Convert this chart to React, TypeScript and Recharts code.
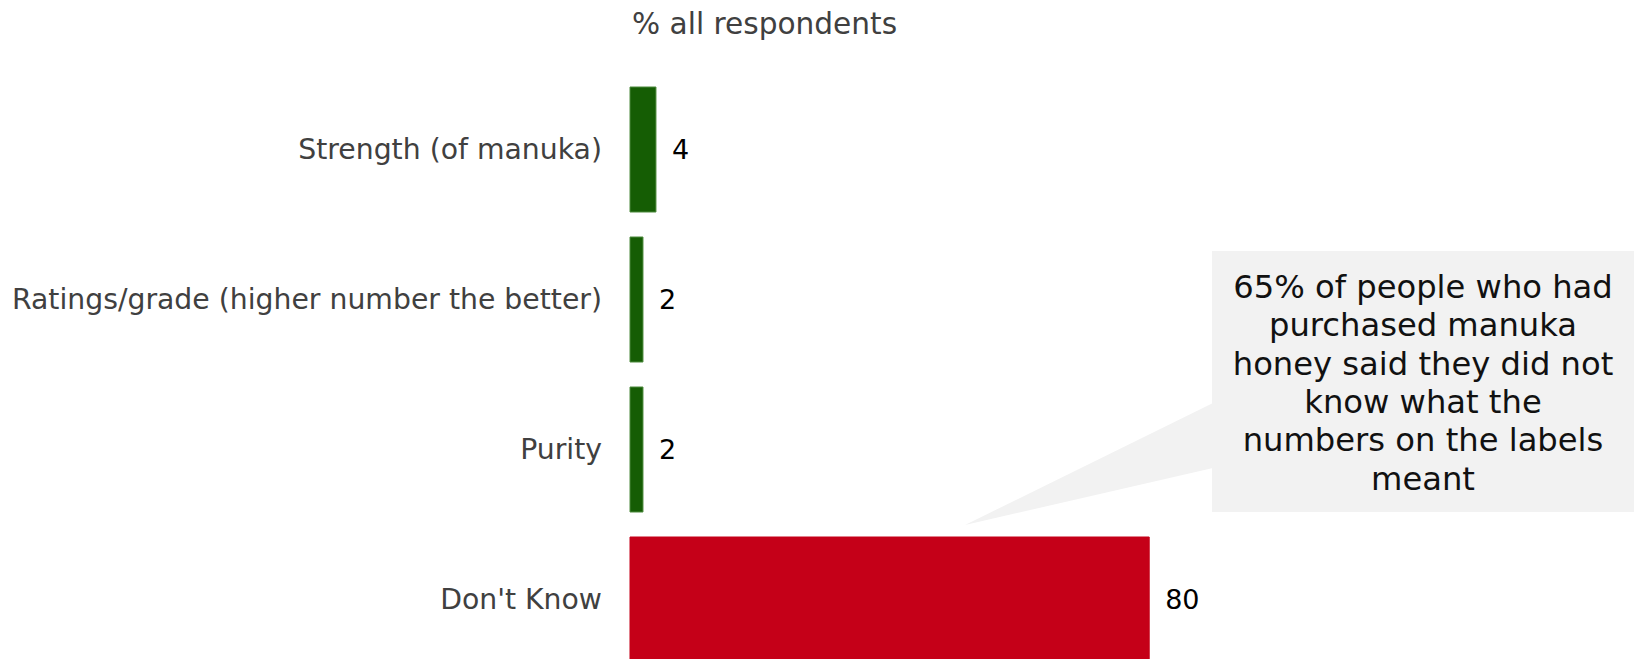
import React from 'react';
import { BarChart, Bar, XAxis, YAxis, Cell, LabelList } from 'recharts';

const categories = [
  'Strength (of manuka)',
  'Ratings/grade (higher number the better)',
  'Purity',
  "Don't Know",
];
const values = [4, 2, 2, 80];
const barColors = ['#155d04', '#155d04', '#155d04', '#c50018'];
const calloutLines = [
  '65% of people who had',
  'purchased manuka',
  'honey said they did not',
  'know what the',
  'numbers on the labels',
  'meant',
];

const data = categories.map((name, i) => ({ name, value: values[i] }));

const FONT = "Tahoma, 'DejaVu Sans', sans-serif";

export default function App() {
  return (
    <div style={{ position: 'relative', width: 1634, height: 659, overflow: 'hidden', fontFamily: FONT }}>
      <style>{'body{margin:0;}'}</style>
      <svg width={1634} height={659} style={{ position: 'absolute', left: 0, top: 0 }}>
        <text x={632} y={34} fontSize={29.6} fill="#404040" fontFamily={FONT}>
          % all respondents
        </text>
      </svg>
      <div style={{ position: 'absolute', left: 0, top: 0 }}>
        <BarChart
          width={1634}
          height={674}
          data={data}
          layout="vertical"
          margin={{ top: 74, right: 355, bottom: 0, left: 0 }}
        >
          <XAxis type="number" domain={[0, 100]} hide />
          <YAxis
            type="category"
            dataKey="name"
            width={630}
            axisLine={false}
            tickLine={false}
            tickSize={0}
            tickMargin={28}
            tick={{ fontSize: 28.3, fill: '#404040', fontFamily: FONT }}
          />
          <Bar dataKey="value" barSize={125} isAnimationActive={false}>
            {data.map((d, i) => (
              <Cell key={d.name} fill={barColors[i]} stroke={i < 3 ? '#4d8a3d' : barColors[i]} strokeWidth={1} />
            ))}
            <LabelList dataKey="value" position="right" offset={16} fill="#000" fontSize={27} fontFamily={FONT} />
          </Bar>
        </BarChart>
      </div>
      <svg width={1634} height={659} style={{ position: 'absolute', left: 0, top: 0 }}>
        <polygon points="965,525 1213,403 1213,468" fill="#f2f2f2" />
        <rect x={1212} y={251} width={422} height={261} fill="#f2f2f2" />
        {calloutLines.map((line, i) => (
          <text
            key={line}
            x={1423}
            y={298 + i * 38.3}
            textAnchor="middle"
            fontSize={32.2}
            fill="#111"
            fontFamily={FONT}
          >
            {line}
          </text>
        ))}
      </svg>
    </div>
  );
}
